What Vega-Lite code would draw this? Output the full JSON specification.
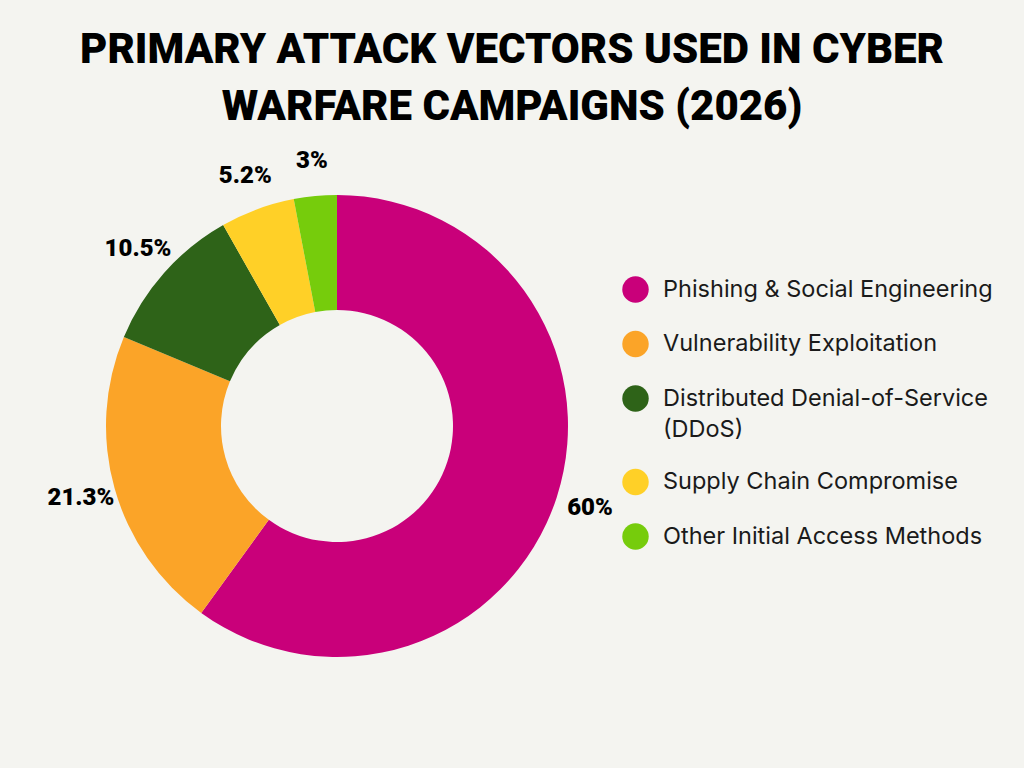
{
  "$schema": "https://vega.github.io/schema/vega-lite/v6.json",
  "autosize": {"type": "none"},
  "width": 464,
  "height": 462,
  "padding": {"left": 105, "top": 195, "right": 455, "bottom": 111},
  "background": "#F4F4F0",
  "title": {
    "text": ["PRIMARY ATTACK VECTORS USED IN CYBER", "WARFARE CAMPAIGNS (2026)"],
    "font": "Roboto",
    "fontWeight": 900,
    "fontSize": 42,
    "lineHeight": 57,
    "color": "#000000",
    "anchor": "middle",
    "dx": 175,
    "offset": 20
  },
  "data": {
    "values": [
      {"vector": "Phishing & Social Engineering", "value": 60, "label": "60%"},
      {"vector": "Vulnerability Exploitation", "value": 21.3, "label": "21.3%"},
      {"vector": "Distributed Denial-of-Service (DDoS)", "value": 10.5, "label": "10.5%"},
      {"vector": "Supply Chain Compromise", "value": 5.2, "label": "5.2%"},
      {"vector": "Other Initial Access Methods", "value": 3, "label": "3%"}
    ]
  },
  "encoding": {
    "theta": {"field": "value", "type": "quantitative", "stack": true},
    "order": {"field": "value", "type": "quantitative", "sort": "descending"},
    "color": {
      "field": "vector",
      "type": "nominal",
      "sort": null,
      "scale": {
        "domain": ["Phishing & Social Engineering", "Vulnerability Exploitation", "Distributed Denial-of-Service (DDoS)", "Supply Chain Compromise", "Other Initial Access Methods"],
        "range": ["#C9007A", "#FBA428", "#2E6318", "#FFD027", "#76CC0C"]
      },
      "legend": {
        "orient": "none",
        "legendX": 517,
        "legendY": 81,
        "title": null,
        "symbolType": "circle",
        "symbolSize": 700,
        "symbolStrokeWidth": 0,
        "labelFont": "Inter",
        "labelFontSize": 23.5,
        "labelColor": "#1a1a1a",
        "labelOffset": 14,
        "labelLimit": 400,
        "rowPadding": 27.5,
        "labelExpr": "datum.label == 'Distributed Denial-of-Service (DDoS)' ? ['Distributed Denial-of-Service', '(DDoS)'] : datum.label",
        "encode": {"labels": {"update": {"lineHeight": {"value": 31}}}}
      }
    }
  },
  "layer": [
    {
      "mark": {"type": "arc", "innerRadius": 116, "outerRadius": 231}
    },
    {
      "mark": {"type": "text", "radius": 266, "font": "Roboto", "fontWeight": 900, "fontSize": 24, "color": "#000000"},
      "encoding": {
        "text": {"field": "label", "type": "nominal"},
        "color": {"value": "#000000"}
      }
    }
  ],
  "view": {"stroke": null},
  "config": {"view": {"stroke": null}}
}
